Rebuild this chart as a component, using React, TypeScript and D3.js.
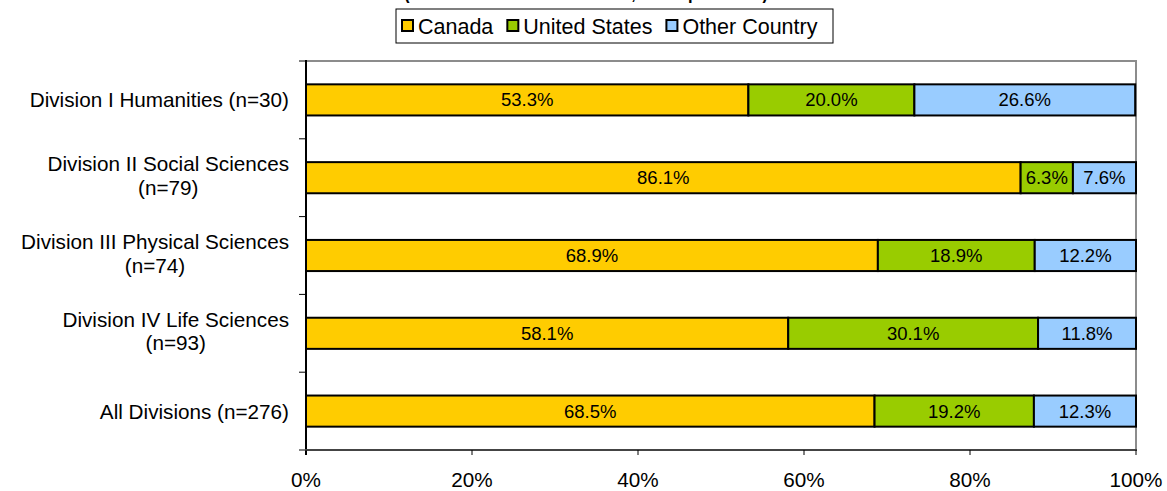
import React, { useEffect, useRef } from "react";
import * as d3 from "d3";

const categories = [
  ["Division I Humanities (n=30)"],
  ["Division II Social Sciences", "(n=79)"],
  ["Division III Physical Sciences", "(n=74)"],
  ["Division IV Life Sciences", "(n=93)"],
  ["All Divisions (n=276)"],
];
const seriesNames = ["Canada", "United States", "Other Country"];
const canada = [53.3, 86.1, 68.9, 58.1, 68.5];
const unitedStates = [20.0, 6.3, 18.9, 30.1, 19.2];
const otherCountry = [26.6, 7.6, 12.2, 11.8, 12.3];
const xTicks = [0, 20, 40, 60, 80, 100];
const colors = ["#FFCC00", "#99CC00", "#99CCFF"];
const titleText = "(Location of Academic Home, all respondents)";

const W = 1167;
const H = 491;
const FONT = "Arial, 'Liberation Sans', sans-serif";
const FS = 20.7;

export default function App() {
  const ref = useRef<SVGSVGElement>(null);
  useEffect(() => {
    const svg = d3.select(ref.current);
    svg.selectAll("*").remove();
    const left = 306, right = 1136, top = 61, bottom = 450;
    const keys = categories.map((c) => c.join(" "));
    const x = d3.scaleLinear().domain([0, 100]).range([left, right]);
    const y = d3.scaleBand().domain(keys).range([top, bottom]).paddingInner(0.6).paddingOuter(0.3);
    const step = y.step();

    // title (clipped at top, as in the reference)
    svg.append("text").attr("x", 404).attr("y", -1.5).attr("font-family", FONT).attr("font-weight", "bold")
      .attr("font-size", FS).attr("textLength", 364).attr("lengthAdjust", "spacingAndGlyphs").text(titleText);

    // plot border top/right
    svg.append("path").attr("d", `M${left},${top}H${right}V${bottom}`).attr("fill", "none")
      .attr("stroke", "#8c8c8c").attr("stroke-width", 2);

    const data = keys.map((k, i) => ({ key: k, Canada: canada[i], "United States": unitedStates[i], "Other Country": otherCountry[i] }));
    const stack = d3.stack<any>().keys(seriesNames)(data);
    stack.forEach((layer, li) => {
      layer.forEach((d: any) => {
        const x0 = x(d[0]), x1 = x(d[1]);
        const yy = y(d.data.key)!;
        svg.append("rect").attr("x", x0).attr("y", yy).attr("width", x1 - x0).attr("height", y.bandwidth())
          .attr("fill", colors[li]).attr("stroke", "#000").attr("stroke-width", 2);
        svg.append("text").attr("x", (x0 + x1) / 2).attr("y", yy + y.bandwidth() / 2 + 6.5)
          .attr("text-anchor", "middle").attr("font-family", FONT).attr("font-size", 18.5)
          .text((d[1] - d[0]).toFixed(1) + "%");
      });
    });

    // left axis
    svg.append("line").attr("x1", left).attr("x2", left).attr("y1", top - 1).attr("y2", bottom + 5)
      .attr("stroke", "#000").attr("stroke-width", 2);
    for (let i = 0; i <= keys.length; i++) {
      const ty = top + step * i;
      svg.append("line").attr("x1", left - 7).attr("x2", left).attr("y1", ty).attr("y2", ty)
        .attr("stroke", "#000").attr("stroke-width", 1);
    }
    // bottom axis
    svg.append("line").attr("x1", left - 1).attr("x2", right + 1).attr("y1", bottom).attr("y2", bottom)
      .attr("stroke", "#444").attr("stroke-width", 2);
    xTicks.forEach((t) => {
      svg.append("line").attr("x1", x(t)).attr("x2", x(t)).attr("y1", bottom).attr("y2", bottom + 5)
        .attr("stroke", "#000").attr("stroke-width", 1);
      svg.append("text").attr("x", x(t)).attr("y", 487).attr("text-anchor", "middle")
        .attr("font-family", FONT).attr("font-size", FS).text(t + "%");
    });

    // category labels
    categories.forEach((lines, i) => {
      const cy = y(keys[i])! + y.bandwidth() / 2;
      const g = svg.append("g");
      const texts = lines.map((l) => g.append("text").attr("font-family", FONT).attr("font-size", FS)
        .attr("text-anchor", "middle").text(l));
      const widths = texts.map((t) => (t.node() as SVGTextElement).getComputedTextLength());
      const maxW = Math.max(...widths);
      const cx = 289 - maxW / 2;
      if (lines.length === 1) {
        texts[0].attr("x", cx).attr("y", cy + 7.5);
      } else {
        texts[0].attr("x", cx).attr("y", cy - 6.5);
        texts[1].attr("x", cx).attr("y", cy + 17);
      }
    });

    // legend
    const lg = svg.append("g");
    const box = lg.append("rect").attr("y", 9).attr("height", 34).attr("fill", "#fff")
      .attr("stroke", "#000").attr("stroke-width", 1);
    let cur = 402;
    seriesNames.forEach((n, i) => {
      lg.append("rect").attr("x", cur).attr("y", 20).attr("width", 11).attr("height", 11)
        .attr("fill", colors[i]).attr("stroke", "#000").attr("stroke-width", 2);
      const t = lg.append("text").attr("x", cur + 16).attr("y", 33.5).attr("font-family", FONT)
        .attr("font-size", 21.5).text(n);
      const w = (t.node() as SVGTextElement).getComputedTextLength();
      cur += 16 + w + 14;
    });
    box.attr("x", 396).attr("width", Math.max(cur - 14 + 7 - 396, 437));
  }, []);
  return (
    <svg ref={ref} width={W} height={H} style={{ position: "fixed", left: 0, top: 0, background: "#fff" }} />
  );
}
